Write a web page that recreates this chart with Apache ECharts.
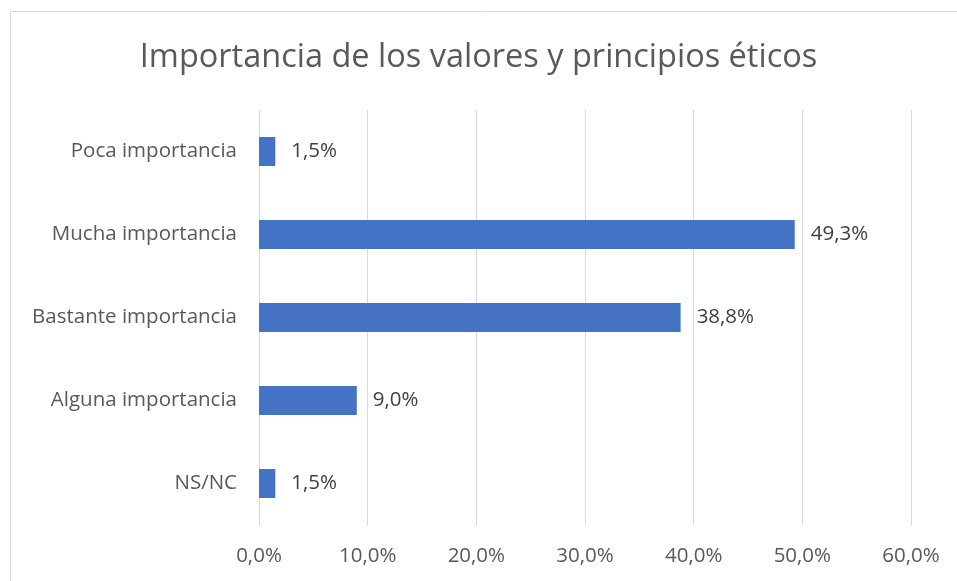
<!DOCTYPE html>
<html>
<head>
<meta charset="utf-8">
<script src="https://cdn.jsdelivr.net/npm/echarts@6/dist/echarts.min.js"></script>
<style>
  html, body { margin: 0; padding: 0; background: #fff; }
  #chart { width: 957px; height: 581px; }
</style>
</head>
<body>
<div id="chart"></div>
<script>
// categories listed bottom to top (ECharts category y axis starts at the bottom)
const categories = ['NS/NC', 'Alguna importancia', 'Bastante importancia', 'Mucha importancia', 'Poca importancia']
const values = [1.5, 9.0, 38.8, 49.3, 1.5]
const xTicks = [0, 10, 20, 30, 40, 50, 60]

const fontFamily = '"Open Sans", "Noto Sans", sans-serif'
const fmt = v => v.toFixed(1).replace('.', ',') + '%'

const chart = echarts.init(document.getElementById('chart'))

const option = {
  animation: false,
  textStyle: { fontFamily },
  title: {
    text: 'Importancia de los valores y principios éticos',
    left: 'center',
    top: 36,
    textStyle: { fontSize: 32.5, fontWeight: 'normal', color: '#595959', fontFamily },
  },
  graphic: [
    {
      type: 'rect',
      shape: { x: 10.5, y: 11.5, width: 1000, height: 1000 },
      style: { fill: 'none', stroke: '#d9d9d9', lineWidth: 1 },
      silent: true,
    },
  ],
  grid: {
    left: 259,
    right: 46,
    top: 110,
    bottom: 56,
    containLabel: false,
  },
  xAxis: {
    type: 'value',
    min: xTicks[0],
    max: xTicks[xTicks.length - 1],
    interval: 10,
    axisLine: { show: false },
    axisTick: { show: false },
    splitLine: { lineStyle: { color: '#d9d9d9', width: 1 } },
    axisLabel: {
      formatter: v => fmt(v),
      fontSize: 20.5,
      color: '#595959',
      margin: 21,
      fontFamily,
    },
  },
  yAxis: {
    type: 'category',
    data: categories,
    axisLine: { show: false },
    axisTick: { show: false },
    axisLabel: {
      fontSize: 20.5,
      color: '#595959',
      margin: 22,
      fontFamily,
    },
  },
  series: [
    {
      type: 'bar',
      data: values,
      barWidth: 29,
      itemStyle: { color: '#4472C4' },
      label: {
        show: true,
        position: 'right',
        distance: 16,
        formatter: p => fmt(p.value),
        fontSize: 20.5,
        color: '#404040',
        fontFamily,
      },
    },
  ],
}

chart.setOption(option)
</script>
</body>
</html>
